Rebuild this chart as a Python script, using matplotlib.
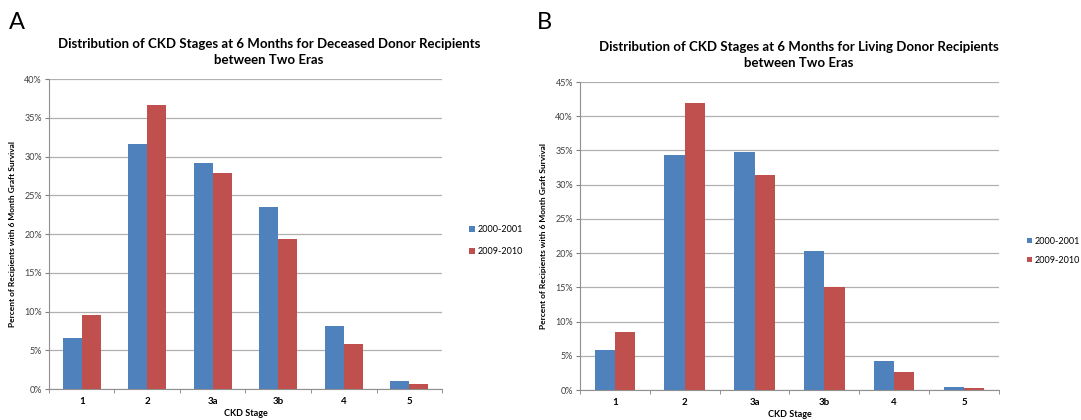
import matplotlib
matplotlib.use("Agg")
import matplotlib.pyplot as plt
import numpy as np

stages = ["1", "2", "3a", "3b", "4", "5"]
eras = ["2000-2001", "2009-2010"]

# percent of recipients
deceased_2000 = [6.6, 31.6, 29.2, 23.5, 8.1, 1.0]
deceased_2009 = [9.5, 36.7, 27.9, 19.4, 5.8, 0.6]
living_2000 = [5.8, 34.3, 34.8, 20.3, 4.2, 0.4]
living_2009 = [8.5, 42.0, 31.4, 15.1, 2.6, 0.25]

blue = '#4F81BD'
red = '#C0504D'

plt.rcParams['font.family'] = ['Lato', 'DejaVu Sans']

fig = plt.figure(figsize=(10.81, 4.2), dpi=100)


def draw_panel(ax, a, b, ymax, title, title_x, letter, letter_x, legend_xy, spacing):
    x = np.arange(len(stages))
    w = 0.29
    ax.bar(x - w/2, a, w, color=blue, label=eras[0], zorder=3)
    ax.bar(x + w/2, b, w, color=red, label=eras[1], zorder=3)

    ax.set_xlim(-0.5, len(stages) - 0.5)
    ax.set_ylim(0, ymax)
    ticks = np.arange(0, ymax + 1, 5)
    ax.set_yticks(ticks)
    ax.set_yticklabels(['%d%%' % t for t in ticks], fontsize=6.5, color='#404040')
    ax.set_xticks(x)
    ax.set_xticklabels(stages, fontsize=7, fontweight='bold')
    ax.set_xticks(np.arange(-0.5, len(stages)), minor=True)
    ax.tick_params(axis='x', which='major', length=0, pad=6)
    ax.tick_params(axis='x', which='minor', length=3, color='#808080')
    ax.tick_params(axis='y', length=3, color='#808080', pad=2)

    ax.grid(axis='y', color='#b0b0b0', linewidth=0.9, zorder=0)
    for s in ['top', 'right']:
        ax.spines[s].set_visible(False)
    for s in ['left', 'bottom']:
        ax.spines[s].set_color('#909090')

    ax.set_xlabel('CKD Stage', fontsize=6.5, fontweight='bold', labelpad=2)
    ax.set_ylabel('Percent of Recipients with 6 Month Graft Survival',
                  fontsize=6, fontweight='bold', labelpad=6)
    ax.set_title(title, fontsize=9.5, fontweight='bold', pad=11, linespacing=1.4, x=title_x)

    ax.legend(loc='center left', bbox_to_anchor=legend_xy, bbox_transform=fig.transFigure,
              frameon=False, fontsize=6.5, handlelength=0.6, handleheight=0.6,
              handletextpad=0.3, labelspacing=spacing, borderpad=0, borderaxespad=0)
    fig.text(letter_x, 0.93, letter, fontsize=17)


axA = fig.add_axes([0.0453, 0.0738, 0.3636, 0.738])
draw_panel(axA, deceased_2000, deceased_2009, 40,
           'Distribution of CKD Stages at 6 Months for Deceased Donor Recipients\nbetween Two Eras',
           0.56, 'A', 0.008, (0.434, 0.427), 1.5)

axB = fig.add_axes([0.5365, 0.0714, 0.3876, 0.7333])
draw_panel(axB, living_2000, living_2009, 45,
           'Distribution of CKD Stages at 6 Months for Living Donor Recipients\nbetween Two Eras',
           0.523, 'B', 0.497, (0.950, 0.403), 1.1)

fig.savefig('out.png', dpi=100)
